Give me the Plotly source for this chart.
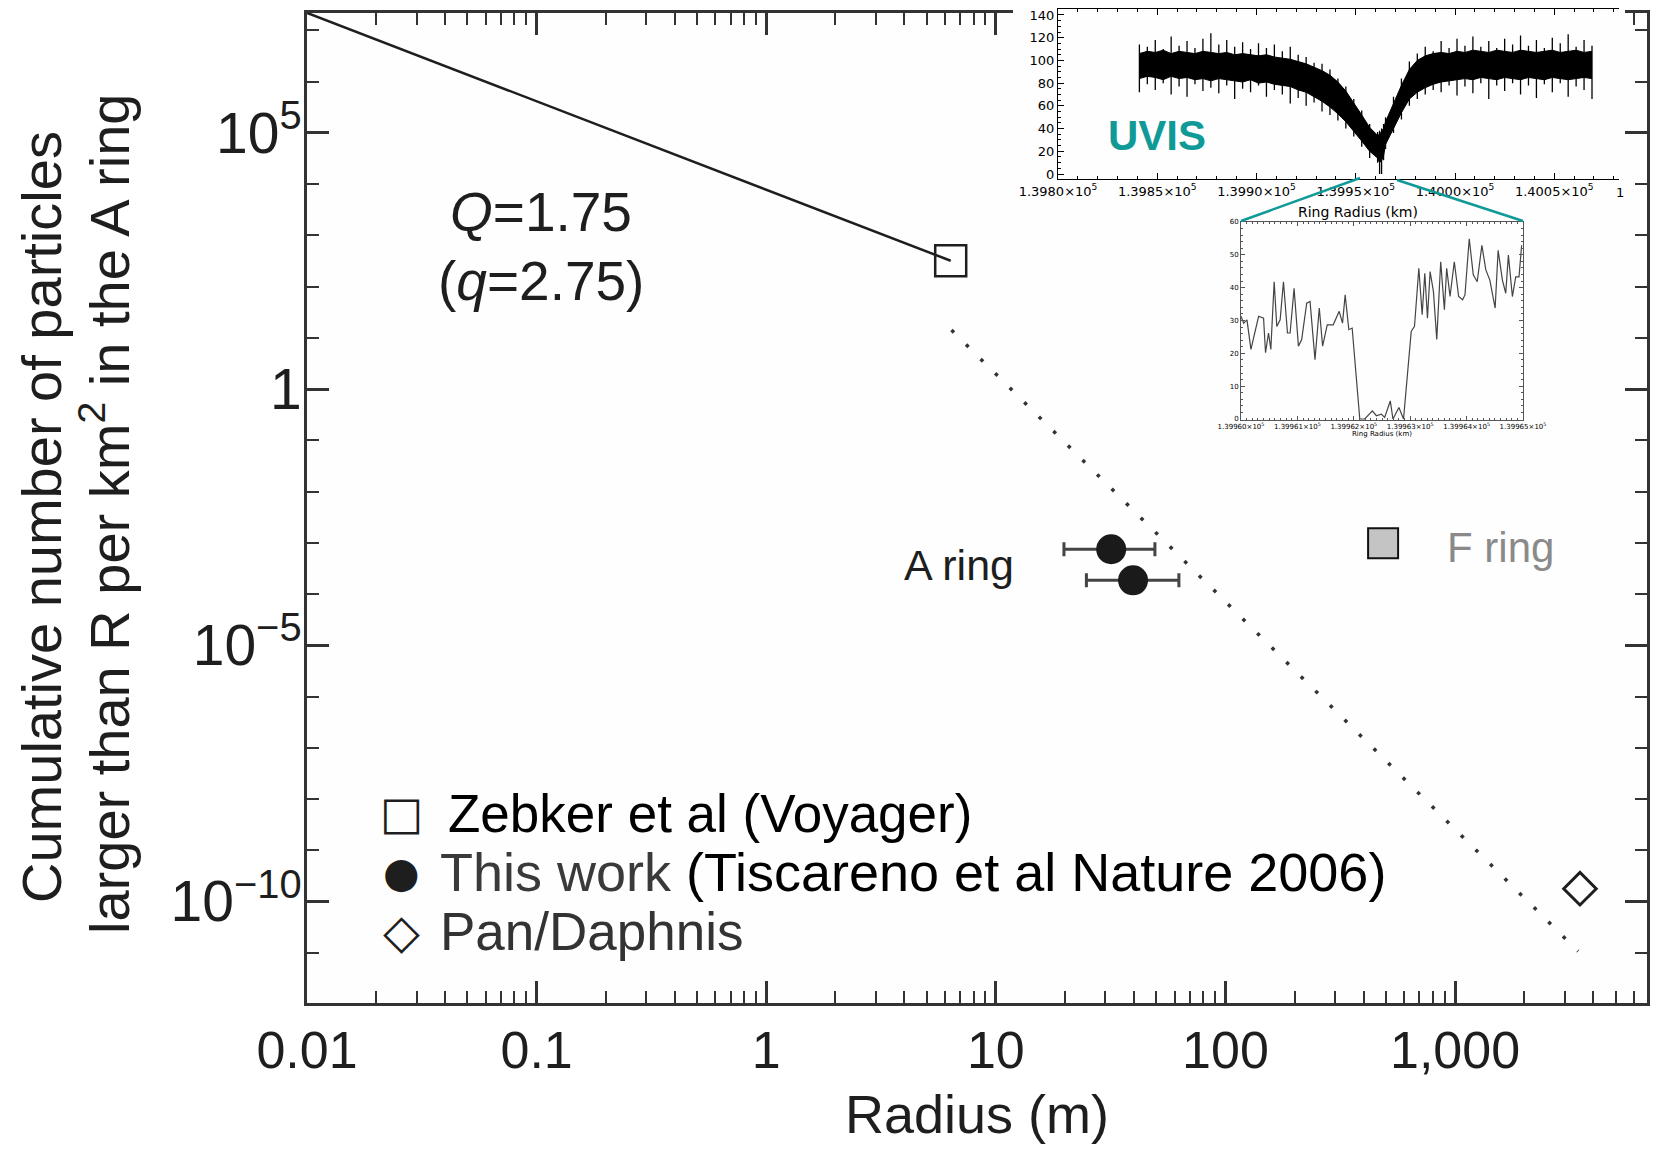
import plotly.graph_objects as go

# the page body keeps an 8 px margin, so the figure is 16 px smaller than the window
PAD = 8
W, H = 1662 - 2 * PAD, 1152 - 2 * PAD
FONT = "Liberation Sans, Arial, Helvetica, sans-serif"
INK = "#1e1e1e"
TEAL = "#0f9a98"

# ---- main panel: cumulative number density vs radius ----
power_r = [0.01, 6.36]          # Q = 1.75 power law
power_n = [2.2e7, 320]
zebker_r = [6.36]
zebker_n = [320]
extrap_r = [6.41, 3436]         # dotted extrapolation
extrap_n = [14.2, 1.07e-11]
aring_r = [31.8, 39.6]
aring_n = [7.5e-4, 1.86e-4]
aring_err_plus = [17.5, 23.1]
aring_err_minus = [12.0, 14.8]
fring_r = [486]
fring_n = [9.8e-4]
pan_r = [3500]
pan_n = [1.78e-10]

x_tickvals = [0.01, 0.1, 1, 10, 100, 1000]
x_ticktext = ["0.01", "0.1", "1", "10", "100", "1,000"]
y_tickvals = [1e5, 1, 1e-5, 1e-10]
y_ticktext = ["10<sup>5</sup>", "1", "10<sup>−5</sup>", "10<sup>−10</sup>"]

# ---- UVIS occultation inset: dense band and spike extremes ----
uvis_r = [139841, 139845, 139849, 139853, 139857, 139861, 139865, 139869, 139873, 139877,
          139881, 139885, 139889, 139893, 139897, 139901, 139905, 139909, 139913, 139917,
          139921, 139925, 139929, 139933, 139937, 139941, 139945, 139949, 139953, 139957,
          139961, 139962, 139963, 139964, 139965, 139969, 139973, 139977, 139981,
          139985, 139989, 139993, 139997, 140001, 140005, 140009, 140013, 140017, 140021,
          140025, 140029, 140033, 140037, 140041, 140045, 140049, 140053, 140057, 140061,
          140065, 140069]
band_hi = [106, 108, 107, 109, 106, 108, 107, 106, 108, 107,
           106, 107, 105, 106, 105, 104, 105, 103, 102, 101,
           99, 97, 94, 91, 87, 81, 73, 63, 52, 41,
           34, 35, 37, 40, 46, 62, 78, 92, 100,
           104, 106, 107, 106, 108, 107, 109, 108, 107, 109,
           108, 107, 109, 108, 107, 108, 109, 107, 108, 109,
           107, 108]
band_lo = [84, 86, 85, 83, 86, 84, 85, 83, 84, 82,
           84, 83, 82, 81, 83, 80, 81, 79, 78, 77,
           74, 72, 68, 64, 59, 53, 46, 38, 29, 20,
           14, 10, 12, 16, 26, 40, 54, 66, 72,
           76, 79, 81, 82, 83, 84, 83, 85, 84, 83,
           85, 84, 83, 85, 84, 83, 85, 84, 83, 84,
           85, 84]
uvis_hi = [114, 112, 118, 110, 121, 113, 117, 111, 119, 124,
           114, 118, 112, 116, 110, 115, 111, 114, 108, 112,
           105, 103, 98, 97, 92, 84, 77, 66, 56, 44,
           37, 38, 40, 44, 50, 68, 84, 99, 106,
           112, 108, 117, 111, 119, 113, 121, 112, 117, 111,
           119, 114, 122, 113, 118, 111, 120, 115, 123, 112,
           118, 113]
uvis_lo = [72, 79, 74, 80, 70, 77, 68, 79, 73, 76,
           71, 78, 66, 75, 72, 78, 68, 74, 70, 62,
           67, 60, 63, 55, 52, 47, 40, 33, 24, 14,
           10, 0, 0, 12, 22, 36, 48, 60, 66,
           70, 74, 72, 78, 69, 77, 71, 80, 66, 78,
           73, 80, 70, 78, 67, 79, 72, 80, 68, 77,
           74, 66]
uvis_tickvals = [139800, 139850, 139900, 139950, 140000, 140050]
uvis_ticktext = ["1.3980×10<sup>5</sup>", "1.3985×10<sup>5</sup>", "1.3990×10<sup>5</sup>",
                 "1.3995×10<sup>5</sup>", "1.4000×10<sup>5</sup>", "1.4005×10<sup>5</sup>"]

# ---- zoomed gap inset ----
gap_r = [139960.000, 139960.047, 139960.106, 139960.176, 139960.312, 139960.400, 139960.435,
         139960.488, 139960.529, 139960.588, 139960.635, 139960.694, 139960.753, 139960.824,
         139960.871, 139960.941, 139961.018, 139961.076, 139961.165, 139961.224, 139961.312,
         139961.388, 139961.447, 139961.529, 139961.635, 139961.741, 139961.800, 139961.847,
         139961.912, 139961.971, 139962.106, 139962.194, 139962.329, 139962.400, 139962.488,
         139962.547, 139962.647, 139962.694, 139962.800, 139962.882, 139963.018, 139963.076,
         139963.153, 139963.212, 139963.259, 139963.306, 139963.353, 139963.412, 139963.471,
         139963.541, 139963.606, 139963.647, 139963.706, 139963.782, 139963.859, 139963.929,
         139963.971, 139964.047, 139964.118, 139964.188, 139964.271, 139964.341, 139964.412,
         139964.506, 139964.559, 139964.635, 139964.694, 139964.741, 139964.812, 139964.871,
         139964.929, 139964.976]
gap_counts = [31.3, 29.2, 30.2, 21.2, 31.3, 30.7, 20.2, 26.2, 21.2, 41.8, 28.2, 30.2, 41.8, 26.2,
              26.2, 39.8, 22.2, 24.2, 35.3, 35.8, 18.1, 33.8, 22.2, 28.7, 28.7, 32.8, 29.2, 37.8,
              27.2, 27.7, 0, 0, 2.5, 1.0, 1.5, 0.5, 5.5, 0, 3.5, 0, 26.7, 28.2,
              45.9, 31.8, 44.4, 30.7, 44.9, 38.8, 24.2, 47.9, 33.3, 45.9, 37.3, 47.9, 37.3, 36.3,
              37.8, 54.9, 43.9, 41.8, 52.9, 45.4, 42.3, 33.8, 51.4, 42.3, 38.3, 49.9, 37.3, 43.3,
              43.3, 52.9]
gap_tickvals = [139960, 139961, 139962, 139963, 139964, 139965]
gap_ticktext = ["1.39960×10<sup>5</sup>", "1.39961×10<sup>5</sup>", "1.39962×10<sup>5</sup>",
                "1.39963×10<sup>5</sup>", "1.39964×10<sup>5</sup>", "1.39965×10<sup>5</sup>"]


def fx(p):
    # window pixel -> paper fraction
    return (p - PAD) / W


def fy(p):
    return 1 - (p - PAD) / H


fig = go.Figure()

# main panel
fig.add_trace(go.Scatter(x=power_r, y=power_n, mode="lines",
                         line=dict(color=INK, width=2.5), xaxis="x", yaxis="y"))
fig.add_trace(go.Scatter(x=extrap_r, y=extrap_n, mode="lines",
                         line=dict(color="#333333", width=3.5, dash="3.5px,17px"),
                         xaxis="x", yaxis="y"))
fig.add_trace(go.Scatter(x=zebker_r, y=zebker_n, mode="markers",
                         marker=dict(symbol="square-open", size=31, color=INK,
                                     line=dict(width=2.5, color=INK)),
                         xaxis="x", yaxis="y"))
fig.add_trace(go.Scatter(x=aring_r, y=aring_n, mode="markers",
                         marker=dict(symbol="circle", size=30, color="#1a1a1a"),
                         error_x=dict(type="data", array=aring_err_plus,
                                      arrayminus=aring_err_minus, color="#444444",
                                      thickness=3, width=7),
                         xaxis="x", yaxis="y"))
fig.add_trace(go.Scatter(x=fring_r, y=fring_n, mode="markers",
                         marker=dict(symbol="square", size=30, color="#c4c4c4",
                                     line=dict(width=2, color="#111111")),
                         xaxis="x", yaxis="y"))
fig.add_trace(go.Scatter(x=pan_r, y=pan_n, mode="markers",
                         marker=dict(symbol="diamond-open", size=25, color=INK,
                                     line=dict(width=3, color=INK)),
                         xaxis="x", yaxis="y"))

# white cover behind the UVIS inset (hides main top axis there)
fig.add_trace(go.Scatter(x=[], y=[], xaxis="x2", yaxis="y2"))

# UVIS inset: dense band plus spikes drawn as vertical strokes
fig.add_trace(go.Scatter(x=uvis_r, y=band_lo, mode="lines", line=dict(color="black", width=1),
                         xaxis="x3", yaxis="y3"))
fig.add_trace(go.Scatter(x=uvis_r, y=band_hi, mode="lines", line=dict(color="black", width=1),
                         fill="tonexty", fillcolor="black", xaxis="x3", yaxis="y3"))
fig.add_trace(go.Scatter(x=uvis_r, y=band_lo, mode="markers", marker=dict(size=0.1, opacity=0),
                         error_y=dict(type="data", symmetric=False,
                                      array=[h - b for h, b in zip(uvis_hi, band_lo)],
                                      arrayminus=[b - lo for b, lo in zip(band_lo, uvis_lo)],
                                      color="black", thickness=1.3, width=0),
                         xaxis="x3", yaxis="y3"))

# zoomed gap inset
fig.add_trace(go.Scatter(x=gap_r, y=gap_counts, mode="lines",
                         line=dict(color="#444444", width=1.2), xaxis="x4", yaxis="y4"))

main_axis = dict(showline=True, linewidth=3, linecolor="#333333", mirror="ticks",
                 ticks="inside", ticklen=22, tickwidth=2.5, tickcolor="#333333",
                 showgrid=False, zeroline=False, automargin=False,
                 tickfont=dict(family=FONT, size=52, color=INK))

x_minor = [m * 10 ** k for k in range(-2, 4) for m in range(2, 10) if m * 10 ** k < 6800]
y_minor = [10.0 ** k for k in range(-11, 8) if k % 5 != 0]

small_font = dict(family="DejaVu Sans, sans-serif", size=13, color="black")
tiny_font = dict(family="DejaVu Sans, sans-serif", size=7, color="black")

fig.update_layout(
    width=W, height=H,
    margin=dict(l=0, r=0, t=0, b=0, autoexpand=False),
    paper_bgcolor="#ffffff",
    plot_bgcolor="#fefefe",
    showlegend=False,
    xaxis=dict(main_axis, type="log", range=[-2, 3.836],
               domain=[fx(307), fx(1647)], anchor="y",
               tickmode="array", tickvals=x_tickvals, ticktext=x_ticktext,
               minor=dict(tickmode="array", tickvals=x_minor, ticks="inside",
                          ticklen=12, tickwidth=2, tickcolor="#333333")),
    yaxis=dict(main_axis, type="log", range=[-11.98, 7.34],
               domain=[fy(1003), fy(13)], anchor="x", ticklabelstandoff=-9,
               tickfont=dict(family=FONT, size=57, color=INK),
               tickmode="array", tickvals=y_tickvals, ticktext=y_ticktext,
               minor=dict(tickmode="array", tickvals=y_minor, ticks="inside",
                          ticklen=12, tickwidth=2, tickcolor="#333333")),
    xaxis2=dict(visible=False, domain=[fx(1013), fx(1625)], anchor="y2", range=[0, 1],
                automargin=False),
    yaxis2=dict(visible=False, domain=[fy(205), 1], anchor="x2", range=[0, 1],
                automargin=False),
    xaxis3=dict(domain=[fx(1058), fx(1619)], anchor="y3", range=[139800, 140082.6],
                showline=True, linecolor="black", linewidth=1, mirror="ticks",
                ticks="inside", ticklen=6, tickwidth=1, tickcolor="black",
                tickmode="array", tickvals=uvis_tickvals, ticktext=uvis_ticktext,
                minor=dict(dtick=10, ticks="inside", ticklen=3, tickcolor="black"),
                showgrid=False, zeroline=False, automargin=False, tickfont=small_font),
    yaxis3=dict(domain=[fy(179), fy(8.5)], anchor="x3", range=[-4.4, 145.7],
                showline=True, linecolor="black", linewidth=1, ticklabeloverflow="allow",
                ticks="inside", ticklen=6, tickwidth=1, tickcolor="black",
                tickmode="linear", tick0=0, dtick=20,
                minor=dict(dtick=5, ticks="inside", ticklen=3, tickcolor="black"),
                showgrid=False, zeroline=False, automargin=False, tickfont=small_font),
    xaxis4=dict(domain=[fx(1241), fx(1523)], anchor="y4", range=[139960, 139965],
                showline=True, linecolor="#555555", linewidth=1, mirror="ticks",
                ticks="inside", ticklen=4, tickwidth=1, tickcolor="#555555",
                tickmode="array", tickvals=gap_tickvals, ticktext=gap_ticktext,
                minor=dict(dtick=0.1, ticks="inside", ticklen=2, tickcolor="#555555"),
                showgrid=False, zeroline=False, automargin=False, tickfont=tiny_font),
    yaxis4=dict(domain=[fy(420), fy(222)], anchor="x4", range=[-0.3, 60],
                showline=True, linecolor="#555555", linewidth=1, mirror="ticks",
                ticks="inside", ticklen=4, tickwidth=1, tickcolor="#555555",
                tickmode="linear", tick0=0, dtick=10,
                minor=dict(dtick=2, ticks="inside", ticklen=2, tickcolor="#555555"),
                showgrid=False, zeroline=False, automargin=False, tickfont=tiny_font),
)


def note(text, x, y, size, color=INK, xanchor="center", angle=0, family=FONT):
    fig.add_annotation(text=text, x=fx(x), y=fy(y), xref="paper", yref="paper",
                       xanchor=xanchor, yanchor="middle", showarrow=False, textangle=angle,
                       font=dict(family=family, size=size, color=color))


# axis titles
note("Cumulative number of particles", 41, 517, 56, angle=-90)
note("larger than R per km<sup>2</sup> in the A ring", 105, 514, 56, angle=-90)
note("Radius (m)", 977, 1114, 54)

# labels in the plot
note("<i>Q</i>=1.75", 541, 212, 55)
note("(<i>q</i>=2.75)", 541, 281, 55)
note("A ring", 959, 565, 43)
note("F ring", 1500, 548, 42, color="#8a8a8a")

# legend
note("□", 401, 813, 46, family="DejaVu Sans, sans-serif")
note("●", 401, 872, 42, family="DejaVu Sans, sans-serif")
note("◇", 401, 931, 48, family="DejaVu Sans, sans-serif")
note("Zebker et al (Voyager)", 446, 813, 53, xanchor="left", color="#000000")
note("<span style='color:#3a3a3a'>This work</span> (Tiscareno et al Nature 2006)",
     438, 872, 54, xanchor="left", color="#000000")
note("Pan/Daphnis", 438, 931, 53, xanchor="left", color="#333333")

# inset texts
note("<b>UVIS</b>", 1157, 136, 42, color=TEAL)
note("Ring Radius (km)", 1358, 212, 14, family="DejaVu Sans, sans-serif", color="black")
note("1", 1614, 192, 13, xanchor="left", family="DejaVu Sans, sans-serif", color="black")
note("Ring Radius (km)", 1382, 434, 7, family="DejaVu Sans, sans-serif", color="black")

# teal connectors from the UVIS gap to the zoomed inset
for x0, y0, x1, y1 in [(1360, 178, 1241, 221), (1397, 180, 1523, 221)]:
    fig.add_shape(type="line", xref="paper", yref="paper",
                  x0=fx(x0), y0=fy(y0), x1=fx(x1), y1=fy(y1),
                  line=dict(color=TEAL, width=2.5), layer="above")

fig.write_html("out.html")
